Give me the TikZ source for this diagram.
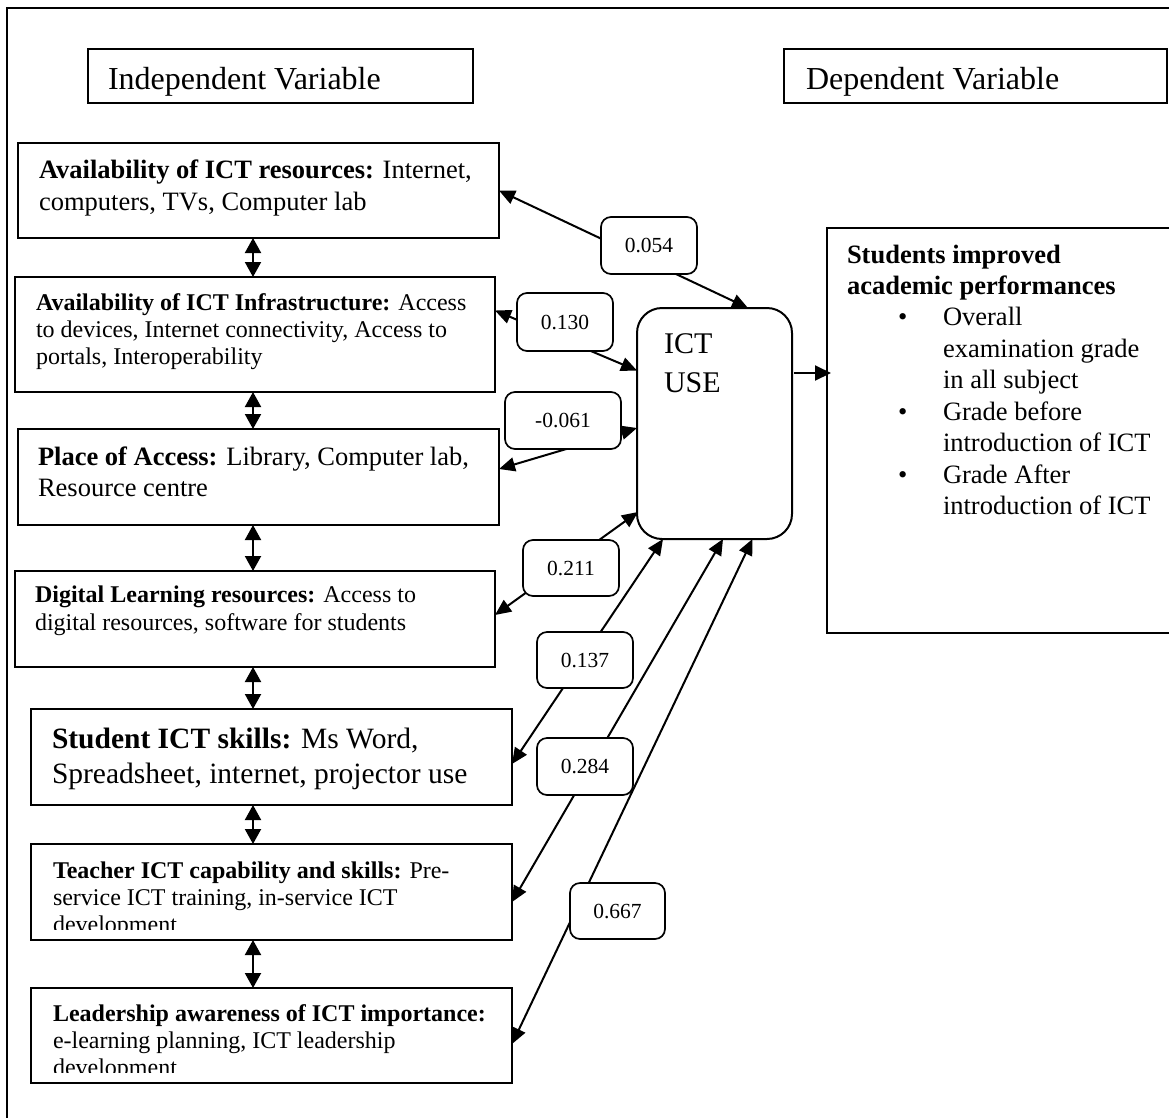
\documentclass[tikz,border=0pt]{standalone}
\usepackage{fontspec}
\setmainfont{Liberation Serif}
\usetikzlibrary{arrows.meta,calc}
\newcommand\hdfont{\fontsize{32}{38}\selectfont}
\newcommand\mdfont{\fontsize{26.5}{31.5}\selectfont}
\newcommand\smfont{\fontsize{24}{27}\selectfont}
\newcommand\lgfont{\fontsize{29.5}{35}\selectfont}
\newcommand\ictfont{\fontsize{30}{39}\selectfont}
\newcommand\lblfont{\fontsize{21.5}{25}\selectfont}
\tikzset{
  bx/.style={draw, line width=2pt, inner sep=0pt, outer sep=0pt, anchor=north west},
  lbl/.style={draw, line width=1.7pt, rounded corners=10pt, fill=white, inner sep=0pt, outer sep=0pt,
              minimum width=96pt, minimum height=57pt, font=\lblfont},
  txt/.style={anchor=base west, inner sep=0pt, outer sep=0pt},
  con/.style={line width=2pt, {Triangle[length=16pt,width=14pt]}-{Triangle[length=16pt,width=14pt]}},
  one/.style={line width=2pt, -{Triangle[length=16pt,width=15pt]}},
  dbl/.style={line width=2pt, {Triangle[length=15pt,width=16pt]}-{Triangle[length=15pt,width=16pt]}},
}
\begin{document}
\begin{tikzpicture}[x=1pt,y=-1pt]
\useasboundingbox (0,0) rectangle (1169,1117);
\clip (0,0) rectangle (1169,1117);
% outer frame
\draw[line width=2pt] (7,1140) -- (7,8) -- (1190,8);

% header boxes
\node[bx, minimum width=385pt, minimum height=54pt] (ind) at (88,49) {};
\node[txt, font=\hdfont] (tind) at (108,89) {Independent Variable};
\node[bx, minimum width=383pt, minimum height=54pt] (dep) at (784,49) {};
\node[txt, font=\hdfont] (tdep) at (806,89) {Dependent Variable};

% left boxes
\node[bx, minimum width=481pt, minimum height=95pt] (b1) at (18,143) {};
\node[bx, minimum width=480pt, minimum height=115pt] (b2) at (15,277) {};
\node[bx, minimum width=481pt, minimum height=96pt] (b3) at (18,429) {};
\node[bx, minimum width=480pt, minimum height=96pt] (b4) at (15,571) {};
\node[bx, minimum width=481pt, minimum height=96pt] (b5) at (31,709) {};
\node[bx, minimum width=481pt, minimum height=96pt] (b6) at (31,844) {};
\node[bx, minimum width=481pt, minimum height=95pt] (b7) at (31,988) {};

\node[txt, font=\mdfont] (t1a) at (39,178) {\textbf{Availability of ICT resources:} Internet,};
\node[txt, font=\mdfont] (t1b) at (39,210) {computers, TVs, Computer lab};

\node[txt, font=\smfont] (t2a) at (36,310) {\textbf{Availability of ICT Infrastructure:} Access};
\node[txt, font=\smfont] (t2b) at (36,337) {to devices, Internet connectivity, Access to};
\node[txt, font=\smfont] (t2c) at (36,364) {portals, Interoperability};

\node[txt, font=\mdfont] (t3a) at (38,465) {\textbf{Place of Access:} Library, Computer lab,};
\node[txt, font=\mdfont] (t3b) at (38,496) {Resource centre};

\node[txt, font=\smfont] (t4a) at (35,602) {\textbf{Digital Learning resources:} Access to};
\node[txt, font=\smfont] (t4b) at (35,630) {digital resources, software for students};

\node[txt, font=\lgfont] (t5a) at (52,748) {\textbf{Student ICT skills:} Ms Word,};
\node[txt, font=\lgfont] (t5b) at (52,783) {Spreadsheet, internet, projector use};

\node[txt, font=\smfont] (t6a) at (53,878) {\textbf{Teacher ICT capability and skills:} Pre-};
\node[txt, font=\smfont] (t6b) at (53,905) {service ICT training, in-service ICT};
\begin{scope}
\clip (31,844) rectangle (512,929.5);
\node[txt, font=\smfont] (t6c) at (53,932) {development};
\end{scope}

\node[txt, font=\smfont] (t7a) at (53,1021) {\textbf{Leadership awareness of ICT importance:}};
\node[txt, font=\smfont] (t7b) at (53,1048) {e-learning planning, ICT leadership};
\begin{scope}
\clip (31,988) rectangle (512,1072.5);
\node[txt, font=\smfont] (t7c) at (53,1075) {development};
\end{scope}

% ICT USE box
\node[bx, rounded corners=25pt, minimum width=155pt, minimum height=231pt] (ict) at (637,308) {};
\node[txt, font=\ictfont] (tict1) at (664,353) {ICT};
\node[txt, font=\ictfont] (tict2) at (664,392) {USE};

% students box
\node[bx, minimum width=350pt, minimum height=405pt] (stu) at (827,228) {};
\node[txt, font=\mdfont] (ts1) at (847,263) {\textbf{Students improved}};
\node[txt, font=\mdfont] (ts2) at (847,294) {\textbf{academic performances}};
\node[txt, font=\mdfont] (bu1) at (898,325) {\textbullet};
\node[txt, font=\mdfont] (ts3) at (943,325) {Overall};
\node[txt, font=\mdfont] (ts4) at (943,357) {examination grade};
\node[txt, font=\mdfont] (ts5) at (943,388) {in all subject};
\node[txt, font=\mdfont] (bu2) at (898,420) {\textbullet};
\node[txt, font=\mdfont] (ts6) at (943,420) {Grade before};
\node[txt, font=\mdfont] (ts7) at (943,451) {introduction of ICT};
\node[txt, font=\mdfont] (bu3) at (898,483) {\textbullet};
\node[txt, font=\mdfont] (ts8) at (943,483) {Grade After};
\node[txt, font=\mdfont] (ts9) at (943,514) {introduction of ICT};

% vertical double arrows
\coordinate (ax) at (253,0);
\draw[dbl] (b1.south -| ax) -- (b2.north -| ax);
\draw[dbl] (b2.south -| ax) -- (b3.north -| ax);
\draw[dbl] (b3.south -| ax) -- (b4.north -| ax);
\draw[dbl] (b4.south -| ax) -- (b5.north -| ax);
\draw[dbl] (b5.south -| ax) -- (b6.north -| ax);
\draw[dbl] (b6.south -| ax) -- (b7.north -| ax);

% connectors to ICT USE
\draw[con] (b1.east) -- ($(ict.north)+(33.5,0)$);
\draw[con] ($(b2.east)+(0,-24)$) -- ($(ict.west)+(0,-53)$);
\draw[con] ($(b3.east)+(0,-8)$) -- ($(ict.west)+(0,4.5)$);
\draw[con] ($(b4.east)+(0,-4)$) -- ($(ict.south west)+(1,-27)$);
\draw[con] ($(b5.east)+(0,7)$) -- ($(ict.south)+(-51.5,0)$);
\draw[con] ($(b6.east)+(0,10)$) -- ($(ict.south)+(8.5,0)$);
\draw[con] ($(b7.east)+(0,8.5)$) -- ($(ict.south)+(38,0)$);
\draw[one] ($(ict.east)+(2,-50.5)$) -- ($(stu.west)+(4,-57.5)$);

% coefficient labels
\node[lbl] (l1) at (649,245.5) {0.054};
\node[lbl, minimum height=58pt] (l2) at (565,322) {0.130};
\node[lbl, minimum width=116pt] (l3) at (563,420.5) {-0.061\hspace{16pt}};
\node[lbl, minimum height=56pt] (l4) at (571,568) {0.211};
\node[lbl, minimum height=56pt] (l5) at (585,660) {0.137};
\node[lbl] (l6) at (585,766.5) {0.284};
\node[lbl, minimum width=95pt, minimum height=56pt] (l7) at (617.5,911) {0.667};
\end{tikzpicture}
\end{document}
